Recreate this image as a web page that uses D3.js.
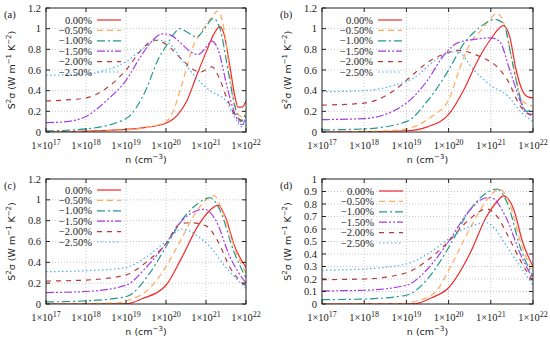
<!DOCTYPE html>
<html>
<head>
<meta charset="utf-8">
<script src="https://cdn.jsdelivr.net/npm/d3@7"></script>
<style>
  body { margin: 0; background: #fff; }
  svg { display: block; }
  .tick-label { font-family: "Liberation Serif", "DejaVu Serif", serif; font-size: 10.5px; fill: #222; }
  .legend-text { font-family: "Liberation Serif", "DejaVu Serif", serif; font-size: 10.5px; fill: #222; }
  .axis-title { font-family: "DejaVu Sans", "Noto Sans", sans-serif; font-size: 9.5px; fill: #222; }
  .panel-tag { font-family: "Liberation Serif", "DejaVu Serif", serif; font-size: 10.5px; fill: #222; }
</style>
</head>
<body>
<script>
// series labels (strain) and exponent ticks
const seriesNames = ["0.00%", "\u22120.50%", "\u22121.00%", "\u22121.50%", "\u22122.00%", "\u22122.50%"];
const xExponents = [17, 18, 19, 20, 21, 22];

// values: [log10(n), S^2 sigma]
// panel (a)
const sA0 = [[17,0],[18,0.008],[19,0.025],[19.5,0.045],[20,0.085],[20.3,0.17],[20.52,0.3],[20.77,0.55],[21.02,0.79],[21.2,0.95],[21.35,1.02],[21.45,0.95],[21.6,0.63],[21.72,0.35],[21.8,0.24],[21.9,0.24],[22,0.3]];
const sA1 = [[17,0],[18,0.005],[19,0.02],[19.6,0.05],[20,0.1],[20.2,0.22],[20.35,0.4],[20.5,0.6],[20.65,0.8],[20.85,0.95],[21.05,1.06],[21.3,1.17],[21.45,1.0],[21.6,0.55],[21.75,0.22],[21.88,0.15],[22,0.18]];
const sA2 = [[17,0.01],[18,0.03],[19,0.13],[19.5,0.41],[19.8,0.7],[20,0.83],[20.2,0.95],[20.35,1.0],[20.55,0.96],[20.77,0.92],[21.0,1.02],[21.18,1.1],[21.35,1.0],[21.55,0.6],[21.72,0.25],[21.88,0.1],[22,0.2]];
const sA3 = [[17,0.09],[17.5,0.1],[18,0.15],[18.5,0.3],[19,0.5],[19.4,0.75],[19.7,0.9],[19.9,0.95],[20.1,0.94],[20.4,0.85],[20.6,0.78],[20.8,0.75],[21.0,0.82],[21.15,0.88],[21.3,0.8],[21.55,0.4],[21.75,0.15],[21.9,0.07],[22,0.15]];
const sA4 = [[17,0.3],[17.5,0.31],[18,0.33],[18.5,0.42],[19,0.6],[19.4,0.8],[19.7,0.89],[20.0,0.85],[20.4,0.7],[20.7,0.6],[20.85,0.58],[21.15,0.63],[21.3,0.55],[21.55,0.3],[21.75,0.15],[22,0.1]];
const sA5 = [[17,0.55],[18,0.56],[18.5,0.6],[19,0.68],[19.4,0.8],[19.8,0.89],[20.1,0.85],[20.4,0.7],[20.7,0.55],[21.1,0.4],[21.5,0.3],[21.75,0.12],[21.9,0.05],[22,0.15]];

// panel (b)
const sB0 = [[17,0],[18,0.003],[19,0.012],[19.5,0.05],[20,0.17],[20.35,0.4],[20.7,0.7],[21.0,0.9],[21.3,1.03],[21.45,0.92],[21.6,0.6],[21.75,0.4],[21.88,0.34],[22,0.33]];
const sB1 = [[17,0],[18.5,0.01],[19,0.03],[19.6,0.15],[20,0.31],[20.25,0.6],[20.5,0.85],[20.8,1.0],[21.0,1.1],[21.15,1.15],[21.35,1.0],[21.55,0.6],[21.75,0.3],[22,0.25]];
const sB2 = [[17,0.02],[18,0.03],[19,0.1],[19.5,0.3],[20,0.6],[20.35,0.85],[20.7,1.0],[21.1,1.09],[21.3,1.05],[21.5,0.7],[21.72,0.3],[21.85,0.2],[22,0.22]];
const sB3 = [[17,0.12],[18,0.13],[19,0.28],[19.5,0.5],[19.9,0.75],[20.2,0.86],[20.5,0.89],[21.0,0.91],[21.2,0.88],[21.45,0.6],[21.7,0.3],[21.85,0.18],[22,0.17]];
const sB4 = [[17,0.26],[18,0.28],[18.7,0.4],[19,0.5],[19.6,0.7],[20.0,0.77],[20.2,0.79],[20.8,0.72],[21.1,0.65],[21.4,0.5],[21.7,0.25],[22,0.15]];
const sB5 = [[17,0.39],[18,0.4],[18.7,0.45],[19.2,0.53],[19.7,0.7],[20.2,0.78],[20.6,0.6],[21.0,0.45],[21.4,0.35],[21.7,0.2],[22,0.1]];

// panel (c)
const sC0 = [[17,0],[19,0.002],[19.4,0.05],[20,0.18],[20.4,0.45],[20.8,0.75],[21.1,0.9],[21.3,0.95],[21.5,0.82],[21.7,0.57],[22,0.35]];
const sC1 = [[17,0],[18.8,0.01],[19,0.03],[19.5,0.12],[19.9,0.3],[20.35,0.6],[20.7,0.85],[21.0,1.0],[21.2,1.04],[21.45,0.85],[21.75,0.5],[22,0.3]];
const sC2 = [[17,0.02],[18,0.03],[19,0.07],[19.6,0.3],[20,0.55],[20.35,0.78],[20.75,0.95],[21.1,1.02],[21.35,0.9],[21.7,0.5],[22,0.25]];
const sC3 = [[17,0.11],[18,0.12],[19,0.18],[19.5,0.35],[20,0.58],[20.4,0.8],[20.8,0.9],[20.95,0.91],[21.25,0.8],[21.6,0.45],[22,0.2]];
const sC4 = [[17,0.22],[18,0.23],[19,0.28],[19.5,0.4],[20,0.58],[20.35,0.77],[20.6,0.78],[21.0,0.75],[21.3,0.6],[21.6,0.35],[22,0.17]];
const sC5 = [[17,0.31],[18,0.32],[19,0.35],[19.5,0.45],[20,0.6],[20.4,0.72],[20.8,0.65],[21.1,0.55],[21.5,0.35],[22,0.15]];

// panel (d)
const sD0 = [[17,0],[19.2,0.002],[19.6,0.05],[20,0.13],[20.5,0.4],[20.9,0.7],[21.15,0.82],[21.3,0.865],[21.55,0.75],[21.75,0.5],[22,0.3]];
const sD1 = [[17,0],[19,0.005],[19.2,0.02],[19.7,0.1],[20,0.27],[20.5,0.6],[20.95,0.85],[21.2,0.92],[21.45,0.8],[21.7,0.5],[22,0.25]];
const sD2 = [[17,0.035],[18,0.04],[19,0.07],[19.5,0.2],[20,0.45],[20.5,0.75],[20.95,0.9],[21.15,0.92],[21.4,0.8],[21.7,0.45],[22,0.22]];
const sD3 = [[17,0.105],[18,0.11],[19,0.15],[19.5,0.28],[20,0.5],[20.5,0.75],[20.9,0.85],[21.0,0.85],[21.35,0.7],[21.7,0.4],[22,0.2]];
const sD4 = [[17,0.195],[18,0.2],[19,0.25],[19.5,0.35],[20,0.5],[20.5,0.68],[20.9,0.76],[21.15,0.7],[21.4,0.55],[21.7,0.35],[22,0.18]];
const sD5 = [[17,0.27],[18,0.28],[19,0.32],[19.5,0.4],[20,0.52],[20.5,0.62],[20.9,0.65],[21.1,0.6],[21.4,0.45],[21.7,0.3],[22,0.15]];

const yTicksA = [0, 0.2, 0.4, 0.6, 0.8, 1, 1.2];
const yTicksD = [0, 0.1, 0.2, 0.3, 0.4, 0.5, 0.6, 0.7, 0.8, 0.9, 1];

// line styles per series
const colors = ["#f02a2a", "#ffaa5e", "#1f9a8c", "#a23ee6", "#b83a3a", "#4aaef5"];
const dashes = [null, "6,4", "8,3,2,3", "8,2,2,2,2,2", "5,5", "1.5,2.5"];

const svg = d3.select("body").append("svg")
    .attr("width", 550)
    .attr("height", 340);

function drawPanel(opts) {
    const { left, right, top, bottom, yMax, yTicks, series, tag, legendX, legendY } = opts;

    const x = d3.scaleLog().domain([1e17, 1e22]).range([left, right]);
    const y = d3.scaleLinear().domain([0, yMax]).range([bottom, top]);
    const g = svg.append("g");

    // grid
    xExponents.slice(1, -1).forEach(e => {
        g.append("line")
            .attr("x1", x(10 ** e)).attr("x2", x(10 ** e))
            .attr("y1", top).attr("y2", bottom)
            .attr("stroke", "#bbb").attr("stroke-width", 0.8)
            .attr("stroke-dasharray", "1,2");
    });
    yTicks.slice(1, -1).forEach(v => {
        g.append("line")
            .attr("x1", left).attr("x2", right)
            .attr("y1", y(v)).attr("y2", y(v))
            .attr("stroke", "#bbb").attr("stroke-width", 0.8)
            .attr("stroke-dasharray", "1,2");
    });

    // curves
    const line = d3.line()
        .x(d => x(10 ** d[0]))
        .y(d => y(d[1]))
        .curve(d3.curveMonotoneX);

    const clipId = "clip-" + tag;
    svg.append("clipPath").attr("id", clipId)
        .append("rect").attr("x", left).attr("y", top)
        .attr("width", right - left).attr("height", bottom - top);

    series.forEach((s, i) => {
        g.append("path")
            .datum(s)
            .attr("d", line)
            .attr("fill", "none")
            .attr("clip-path", `url(#${clipId})`)
            .attr("stroke", colors[i])
            .attr("stroke-width", 1.2)
            .attr("stroke-dasharray", dashes[i]);
    });

    // frame and inward ticks
    g.append("rect")
        .attr("x", left).attr("y", top)
        .attr("width", right - left).attr("height", bottom - top)
        .attr("fill", "none").attr("stroke", "#222").attr("stroke-width", 1);

    xExponents.forEach(e => {
        const px = x(10 ** e);
        g.append("line").attr("x1", px).attr("x2", px).attr("y1", bottom).attr("y2", bottom - 4)
            .attr("stroke", "#222");
        g.append("line").attr("x1", px).attr("x2", px).attr("y1", top).attr("y2", top + 4)
            .attr("stroke", "#222");
        const t = g.append("text")
            .attr("class", "tick-label")
            .attr("x", px).attr("y", bottom + 17)
            .attr("text-anchor", "middle");
        t.append("tspan").text("1\u00d710");
        t.append("tspan").attr("dy", -4).attr("font-size", "8px").text(e);
    });

    yTicks.forEach(v => {
        const py = y(v);
        g.append("line").attr("x1", left).attr("x2", left + 4).attr("y1", py).attr("y2", py)
            .attr("stroke", "#222");
        g.append("line").attr("x1", right).attr("x2", right - 4).attr("y1", py).attr("y2", py)
            .attr("stroke", "#222");
        g.append("text")
            .attr("class", "tick-label")
            .attr("x", left - 5).attr("y", py + 3.5)
            .attr("text-anchor", "end")
            .text(v);
    });

    // axis titles
    const xt = g.append("text")
        .attr("class", "axis-title")
        .attr("x", (left + right) / 2).attr("y", bottom + 31)
        .attr("text-anchor", "middle");
    xt.append("tspan").text("n (cm");
    xt.append("tspan").attr("dy", -4).attr("font-size", "7px").text("\u22123");
    xt.append("tspan").attr("dy", 4).text(")");

    const yt = g.append("text")
        .attr("class", "axis-title")
        .attr("transform", `translate(${left - 31},${(top + bottom) / 2}) rotate(-90)`)
        .attr("text-anchor", "middle");
    yt.append("tspan").text("S");
    yt.append("tspan").attr("dy", -4).attr("font-size", "7px").text("2");
    yt.append("tspan").attr("dy", 4).text("\u03c3 (W m");
    yt.append("tspan").attr("dy", -4).attr("font-size", "7px").text("\u22121");
    yt.append("tspan").attr("dy", 4).text(" K");
    yt.append("tspan").attr("dy", -4).attr("font-size", "7px").text("\u22122");
    yt.append("tspan").attr("dy", 4).text(")");

    // panel tag
    g.append("text")
        .attr("class", "panel-tag")
        .attr("x", left - 42).attr("y", top + 10)
        .text(`(${tag})`);

    // legend
    seriesNames.forEach((name, i) => {
        const ly = legendY + i * 10.4;
        g.append("text")
            .attr("class", "legend-text")
            .attr("x", legendX).attr("y", ly + 3.5)
            .attr("text-anchor", "end")
            .text(name);
        g.append("line")
            .attr("x1", legendX + 5).attr("x2", legendX + 29)
            .attr("y1", ly).attr("y2", ly)
            .attr("stroke", colors[i])
            .attr("stroke-width", 1.2)
            .attr("stroke-dasharray", dashes[i]);
    });
}

drawPanel({ left: 46, right: 246, top: 8, bottom: 132, yMax: 1.2, yTicks: yTicksA,
    series: [sA0, sA1, sA2, sA3, sA4, sA5], tag: "a", legendX: 92, legendY: 20 });
drawPanel({ left: 322, right: 533, top: 8, bottom: 132, yMax: 1.2, yTicks: yTicksA,
    series: [sB0, sB1, sB2, sB3, sB4, sB5], tag: "b", legendX: 373, legendY: 20 });
drawPanel({ left: 46, right: 246, top: 179, bottom: 304, yMax: 1.2, yTicks: yTicksA,
    series: [sC0, sC1, sC2, sC3, sC4, sC5], tag: "c", legendX: 92, legendY: 190 });
drawPanel({ left: 322, right: 533, top: 179, bottom: 304, yMax: 1, yTicks: yTicksD,
    series: [sD0, sD1, sD2, sD3, sD4, sD5], tag: "d", legendX: 374, legendY: 191 });
</script>
</body>
</html>
